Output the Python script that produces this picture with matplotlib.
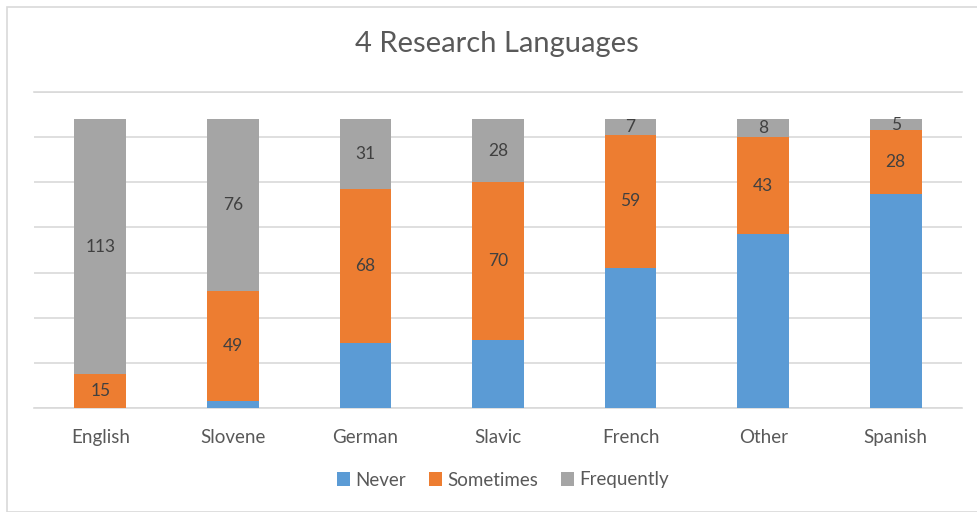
import matplotlib
matplotlib.use("Agg")
import matplotlib.pyplot as plt
from matplotlib.patches import Rectangle
import numpy as np

categories = ["English", "Slovene", "German", "Slavic", "French", "Other", "Spanish"]
never = [0, 3, 29, 30, 62, 77, 95]
sometimes = [15, 49, 68, 70, 59, 43, 28]
frequently = [113, 76, 31, 28, 7, 8, 5]

colors = {"Never": "#5B9BD5", "Sometimes": "#ED7D31", "Frequently": "#A5A5A5"}
font = ["Lato", "DejaVu Sans"]
W, H = 978, 512
fig = plt.figure(figsize=(W / 100, H / 100), dpi=100)
fig.patches.append(Rectangle((7 / W, 0), 1.2, 1 - 7 / H, transform=fig.transFigure,
                             fill=False, edgecolor="#D9D9D9", linewidth=1.2))
ax = fig.add_axes([34 / W, 1 - 408 / H, (962 - 34) / W, (408 - 92) / H])
x = np.arange(len(categories))
bw = 0.39
never_a = np.array(never)
some_a = np.array(sometimes)
freq_a = np.array(frequently)
ax.bar(x, never_a, bw, color=colors["Never"], label="Never", zorder=3)
b2 = ax.bar(x, some_a, bw, bottom=never_a, color=colors["Sometimes"], label="Sometimes", zorder=3)
b3 = ax.bar(x, freq_a, bw, bottom=never_a + some_a, color=colors["Frequently"], label="Frequently", zorder=3)
for bars, vals, bots in [(b2, some_a, never_a), (b3, freq_a, never_a + some_a)]:
    for xi, v, b in zip(x, vals, bots):
        ax.text(xi, b + v / 2, str(v), ha="center", va="center", fontsize=12.5,
                color="#404040", family=font, zorder=4)
ax.set_xlim(-0.5, len(categories) - 0.5)
ax.set_ylim(0, 139)
ax.set_yticks(np.arange(0, 141, 20))
ax.yaxis.grid(True, color="#D9D9D9", linewidth=1.2, zorder=0)
ax.tick_params(axis="y", left=False, labelleft=False)
ax.tick_params(axis="x", length=0, pad=15)
ax.set_xticks(x)
ax.set_xticklabels(categories, fontsize=13.5, color="#595959", family=font)
for s in ["top", "right", "left"]:
    ax.spines[s].set_visible(False)
ax.spines["bottom"].set_color("#D9D9D9")
ax.spines["bottom"].set_linewidth(1.2)
ax.axhline(140, color="#D9D9D9", linewidth=1.2, zorder=0, clip_on=False)
fig.text(497 / W, 1 - 44 / H, "4 Research Languages", ha="center", va="center",
         fontsize=21, color="#595959", family=font)
leg = fig.legend(loc="center", bbox_to_anchor=(503 / W, 1 - 480 / H), ncol=3, frameon=False,
                 prop={"family": font, "size": 13.5}, handlelength=0.7, handleheight=0.7,
                 handletextpad=0.3, columnspacing=1.2)
for t in leg.get_texts():
    t.set_color("#595959")
fig.savefig("out.png", dpi=100)
